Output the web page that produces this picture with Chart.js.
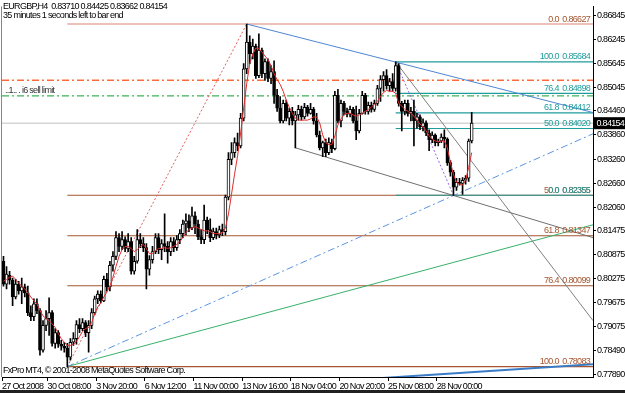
<!DOCTYPE html>
<html><head><meta charset="utf-8">
<script src="https://cdn.jsdelivr.net/npm/chart.js@4.4.1/dist/chart.umd.min.js"></script>
<style>
html,body{margin:0;padding:0;background:#202020;}
#wrap{position:relative;width:625px;height:390px;background:#fff;}
canvas{display:block;}
</style></head><body>
<div id="wrap"><canvas id="c" width="625" height="390"></canvas></div>
<script>
// ---- data (EURGBP H4) ----
const opens = [.8071,.8014,.8036,.8024,.7982,.8014,.7997,.8007,.7992,.7943,
.7933,.7965,.7948,.7849,.7911,.7928,.7943,.7866,.7893,.7864,
.7859,.7854,.7832,.7869,.7878,.7913,.7903,.7918,.7893,.7911,
.7943,.7977,.7989,.7972,.8026,.8007,.8061,.8083,.8130,.8108,
.8125,.8103,.8120,.8046,.8071,.8125,.8115,.8105,.8051,.8075,
.8095,.8130,.8100,.8115,.8108,.8095,.8120,.8105,.8125,.8140,
.8164,.8172,.8154,.8184,.8164,.8132,.8125,.8174,.8150,.8130,
.8145,.8137,.8150,.8145,.8231,.8325,.8342,.8367,.8359,.8428,
.8551,.8618,.8588,.8608,.8534,.8598,.8539,.8569,.8527,.8544,
.8485,.8453,.8421,.8465,.8428,.8445,.8421,.8436,.8450,.8431,
.8455,.8440,.8450,.8421,.8386,.8354,.8367,.8342,.8367,.8352,
.8485,.8421,.8465,.8445,.8438,.8450,.8421,.8396,.8440,.8485,
.8445,.8460,.8450,.8465,.8502,.8524,.8534,.8509,.8519,.8502,
.8559,.8465,.8445,.8465,.8440,.8445,.8421,.8431,.8406,.8416,
.8391,.8374,.8386,.8367,.8371,.8381,.8376,.8317,.8293,.8256,
.8268,.8265,.8273,.8278,.83710];
const highs = [.8083,.8058,.8046,.8029,.8026,.8021,.8029,.8014,.8009,.7960,
.7977,.7977,.7953,.7923,.7948,.7980,.7948,.7903,.7898,.7874,
.7869,.7866,.7878,.7893,.7923,.7928,.7928,.7923,.7923,.7953,
.7984,.7997,.7997,.8034,.8041,.8071,.8095,.8145,.8140,.8145,
.8132,.8140,.8130,.8083,.8150,.8140,.8130,.8115,.8085,.8108,
.8140,.8140,.8125,.8189,.8120,.8130,.8130,.8135,.8150,.8174,
.8189,.8187,.8206,.8194,.8174,.8150,.8211,.8181,.8177,.8154,
.8154,.8159,.8164,.8236,.8342,.8367,.8379,.8391,.8440,.8564,
.86627,.8633,.8625,.8613,.8638,.8603,.8576,.8576,.8559,.8571,
.8500,.8482,.8473,.8473,.8453,.8455,.8445,.8460,.8458,.8465,
.8460,.8465,.8455,.8440,.8396,.8371,.8376,.8379,.8376,.8495,
.8500,.8473,.8470,.8453,.8458,.8455,.8458,.8450,.8495,.8490,
.8468,.8468,.8473,.8510,.8534,.8544,.8549,.8527,.8539,.85684,
.8564,.8470,.8473,.8473,.8455,.8473,.8440,.8436,.8426,.8421,
.8399,.8394,.8389,.8376,.8389,.8399,.8379,.8322,.8298,.8278,
.8278,.8280,.8285,.8376,.84425];
const lows = [.8009,.8002,.8014,.7960,.7977,.7989,.7965,.7982,.7935,.7923,
.7923,.7940,.7837,.7844,.7898,.7886,.7859,.7854,.7856,.7849,
.7844,.78083,.7824,.7861,.7864,.7893,.7898,.7883,.7844,.7903,
.7938,.7965,.7967,.7970,.7997,.7997,.8046,.8075,.8095,.8100,
.8095,.8095,.8039,.8039,.8066,.8105,.8095,.8002,.8036,.8066,
.8090,.8090,.8075,.8095,.8066,.8085,.8095,.8098,.8115,.8130,
.8137,.8145,.8150,.8140,.8125,.8115,.8115,.8140,.8120,.8125,
.8127,.8130,.8135,.8137,.8224,.8312,.8330,.8347,.8354,.8421,
.8539,.8564,.8576,.8527,.8529,.8529,.8522,.8519,.8514,.8465,
.8445,.8416,.8416,.8421,.8411,.8411,.8354,.8423,.8423,.8426,
.8433,.8438,.8413,.8381,.8349,.8332,.8332,.8337,.8342,.8349,
.8416,.8406,.8436,.8431,.8431,.8416,.8374,.8391,.8438,.8438,
.8438,.8443,.8445,.8460,.8470,.8495,.8500,.8495,.8495,.8495,
.8458,.8396,.8436,.8433,.8421,.8359,.8403,.8399,.8396,.8384,
.8347,.8367,.8359,.8359,.8367,.8354,.8310,.8283,.82355,.8248,
.8261,.8238,.8263,.8270,.83662];
const closes = [.8014,.8039,.8024,.7982,.8014,.7997,.8007,.7992,.7943,.7933,
.7965,.7948,.7849,.7911,.7928,.7943,.7866,.7893,.7864,.7859,
.7854,.7832,.7869,.7878,.7913,.7903,.7918,.7893,.7911,.7943,
.7977,.7989,.7972,.8026,.8007,.8061,.8083,.8130,.8108,.8125,
.8103,.8120,.8046,.8071,.8125,.8115,.8105,.8051,.8075,.8095,
.8130,.8100,.8115,.8108,.8095,.8120,.8105,.8125,.8140,.8164,
.8172,.8154,.8184,.8164,.8132,.8125,.8174,.8150,.8130,.8145,
.8137,.8150,.8145,.8231,.8325,.8342,.8367,.8359,.8428,.8551,
.8618,.8588,.8608,.8534,.8598,.8539,.8569,.8527,.8544,.8485,
.8453,.8421,.8465,.8428,.8445,.8421,.8436,.8450,.8431,.8455,
.8440,.8450,.8421,.8386,.8354,.8367,.8342,.8367,.8352,.8485,
.8421,.8465,.8445,.8438,.8450,.8421,.8396,.8440,.8485,.8445,
.8460,.8450,.8465,.8502,.8524,.8534,.8509,.8519,.8502,.8559,
.8465,.8445,.8465,.8440,.8445,.8421,.8431,.8406,.8416,.8391,
.8374,.8386,.8367,.8371,.8381,.8376,.8317,.8293,.8256,.8268,
.8265,.8273,.8278,.8371,.84154];
const maValues = [.8021,.8026,.8031,.8034,.8026,.8016,.8009,.8002,.7992,.7982,
.7972,.7965,.7948,.7935,.7928,.7923,.7915,.7906,.7891,.7878,
.7869,.7861,.7861,.7864,.7871,.7883,.7896,.7903,.7906,.7918,
.7940,.7957,.7967,.7982,.7994,.8009,.8031,.8058,.8083,.8100,
.8108,.8108,.8103,.8095,.8100,.8108,.8113,.8103,.8090,.8090,
.8098,.8103,.8103,.8105,.8103,.8105,.8108,.8113,.8120,.8130,
.8142,.8150,.8154,.8157,.8154,.8150,.8147,.8147,.8145,.8140,
.8140,.8140,.8142,.8154,.8189,.8238,.8288,.8334,.8391,.8453,
.8514,.8564,.8588,.8603,.8601,.8593,.8583,.8574,.8559,.8539,
.8524,.8512,.8495,.8473,.8455,.8440,.8428,.8423,.8423,.8423,
.8423,.8426,.8431,.8431,.8416,.8386,.8367,.8362,.8362,.8384,
.8411,.8426,.8436,.8440,.8440,.8436,.8433,.8436,.8440,.8445,
.8450,.8455,.8463,.8470,.8482,.8492,.8497,.8495,.8495,.8490,
.8465,.8458,.8450,.8445,.8440,.8433,.8423,.8413,.8406,.8396,
.8384,.8376,.8371,.8369,.8371,.8371,.8354,.8317,.8288,.8268,
.8263,.8261,.8273,.8305,.8342];
const xTickBars = [0,15,31,47,63,79,95,111,127,143];
const xTickLabels = ['27 Oct 2008','30 Oct 08:00','3 Nov 20:00','6 Nov 12:00','11 Nov 00:00','13 Nov 16:00','18 Nov 04:00','20 Nov 20:00','25 Nov 08:00','28 Nov 00:00'];
const yTickValues = [0.86845,0.86245,0.85645,0.85045,0.84460,0.83860,0.83260,0.82660,0.82060,0.81475,0.80875,0.80275,0.79675,0.79075,0.78490,0.77890];
const fibBrownLevels = ['0.0','50.0','61.8','76.4','100.0'];
const fibBrownPrices = [0.86627,0.82355,0.81347,0.80099,0.78083];
const fibBrownStartBar = 21;
const fibTealLevels = ['100.0','76.4','61.8','50.0','0.0'];
const fibTealPrices = [0.85684,0.84898,0.84412,0.84020,0.82355];
const fibTealStartBar = 129;
const currentPrice = 0.84154;
const sellLimitPrice = 0.84836;
const orangeLinePrice = 0.85225;
// trend line anchors: [bar, price]
const trendBlueFromTop = [[80,0.86627],[193.9,0.8442]];
const trendGrayChannel = [[96,0.8354],[193.9,0.8130]];
const trendGraySteep = [[129,0.85684],[193.9,0.7923]];
const trendPurple = [[129,0.85684],[148,0.82355]];
const trendBlueDashDot = [[21,0.78083],[193.9,0.8389]];
const trendGreen = [[21,0.78083],[193.9,0.8162]];
const trendRedDots = [[21,0.78083],[80,0.86627]];
const trendBlueBottom = [[115,0.7775],[193.9,0.7814]];
const titleLine = 'EURGBP,H4  0.83710 0.84425 0.83662 0.84154';
const timerLine = '35 minutes 1 seconds left to bar end';
const orderLabel = '..1.. . i6 sell limit';
const copyright = 'FxPro MT4, \u00a9 2001-2008 MetaQuotes Software Corp.';

// ---- chart ----
const XMIN = -0.49, XMAX = 193.9, YMIN = 0.77823, YMAX = 0.87067;
const FAM = '"Liberation Sans", Arial, sans-serif';
const FSIZE = 9;
const SPACING = '-0.7px';
const BROWN = '#a5552f', TEAL = '#1f9c9c';
const idx = closes.map((_, i) => i);
const pts = a => a.map(p => ({x: p[0], y: p[1]}));
function seg(data, color, width, dash, order) {
  return {type: 'line', data, borderColor: color, borderWidth: width, borderDash: dash || [],
    pointRadius: 0, tension: 0, order: order, fill: false};
}
const hLine = (startBar, price) => [{x: startBar, y: price}, {x: XMAX, y: price}];
const datasets = [];
datasets.push(seg(hLine(XMIN, currentPrice), '#c0c0c0', 1, [], 20));
datasets.push(seg(hLine(XMIN, orangeLinePrice), '#ff6a3a', 1.3, [7,3,2,3], 19));
datasets.push(seg(hLine(XMIN, sellLimitPrice), '#3fb354', 1.3, [7,3,2,3], 19));
fibBrownPrices.forEach((p, k) => datasets.push(seg(hLine(fibBrownStartBar, p), k === 0 ? '#d98474' : BROWN, 1.1, [], 18)));
fibTealPrices.forEach(p => datasets.push(seg(hLine(fibTealStartBar, p), TEAL, 1.1, [], 17)));
datasets.push(seg(pts(trendBlueFromTop), '#4f86d2', 1, [], 10));
datasets.push(seg(pts(trendGrayChannel), '#707070', 1, [], 10));
datasets.push(seg(pts(trendGraySteep), '#808080', 1, [], 10));
datasets.push(seg(pts(trendPurple), '#9466e0', 1, [2,2], 10));
datasets.push(seg(pts(trendBlueDashDot), '#5c95e0', 1, [7,3,2,3], 10));
datasets.push(seg(pts(trendGreen), '#37b06a', 1, [], 10));
datasets.push(seg(pts(trendRedDots), '#e06060', 1, [2,2], 10));
datasets.push(seg(pts(trendBlueBottom), '#3a7bc8', 2, [], 10));
datasets.push({type: 'bar', data: idx.map(i => ({x: i, y: [lows[i], highs[i]]})),
  backgroundColor: '#000', barThickness: 1, grouped: false, order: 4, borderWidth: 0});
datasets.push({type: 'bar', data: idx.map(i => ({x: i, y: [opens[i], closes[i]]})),
  backgroundColor: idx.map(i => closes[i] >= opens[i] ? '#ffffff' : '#000000'),
  borderColor: '#000', borderWidth: 1, borderSkipped: false, barThickness: 3, minBarLength: 1,
  grouped: false, order: 3});
datasets.push(seg(maValues.map((v, i) => ({x: i, y: v})), '#e02c2c', 1, [], 1));

const spacingPlugin = {
  id: 'tightText',
  beforeUpdate(chart) { chart.ctx.letterSpacing = SPACING; },
  beforeDraw(chart) { chart.ctx.letterSpacing = SPACING; }
};
const textPlugin = {
  id: 'mt4texts',
  afterDraw(chart) {
    const {ctx, chartArea: a, scales: {y}} = chart;
    ctx.save();
    ctx.letterSpacing = SPACING;
    ctx.font = FSIZE + 'px ' + FAM;
    ctx.strokeStyle = '#888'; ctx.lineWidth = 1;
    ctx.beginPath(); ctx.moveTo(a.left - 0.5, a.top); ctx.lineTo(a.left - 0.5, a.bottom); ctx.stroke();
    ctx.textBaseline = 'middle'; ctx.textAlign = 'left'; ctx.fillStyle = '#000';
    ctx.fillText(titleLine, 3, 6.5);
    ctx.fillText(timerLine, 3, 15.5);
    ctx.fillStyle = '#333';
    ctx.fillText(orderLabel, 5, y.getPixelForValue(sellLimitPrice) - 5);
    ctx.fillStyle = '#000';
    ctx.fillText(copyright, 3, a.bottom - 6);
    ctx.textAlign = 'right'; ctx.textBaseline = 'bottom';
    fibBrownLevels.forEach((l, k) => {
      ctx.fillStyle = BROWN;
      ctx.fillText(l + '  ' + fibBrownPrices[k].toFixed(5), a.right - 3, y.getPixelForValue(fibBrownPrices[k]) - 0.5);
    });
    fibTealLevels.forEach((l, k) => {
      ctx.fillStyle = TEAL;
      ctx.fillText(l + '  ' + fibTealPrices[k].toFixed(5), a.right - 3, y.getPixelForValue(fibTealPrices[k]) - 0.5);
    });
    const py = y.getPixelForValue(currentPrice);
    ctx.fillStyle = '#000';
    ctx.fillRect(a.right + 1, py - 6, 32, 12);
    ctx.fillStyle = '#fff'; ctx.textAlign = 'left'; ctx.textBaseline = 'middle';
    ctx.fillText(currentPrice.toFixed(5), a.right + 3.5, py);
    ctx.restore();
  }
};

new Chart(document.getElementById('c'), {
  type: 'bar',
  data: {datasets},
  options: {
    responsive: false, animation: false, devicePixelRatio: 1,
    layout: {padding: {left: 2, top: 2, right: 0, bottom: 0}},
    plugins: {legend: {display: false}, tooltip: {enabled: false}, title: {display: false}},
    scales: {
      x: {type: 'linear', min: XMIN, max: XMAX, offset: false,
        grid: {display: true, drawOnChartArea: false, drawTicks: true, tickLength: 4, color: '#000', offset: false},
        border: {display: true, color: '#000'},
        afterBuildTicks: s => { s.ticks = xTickBars.map(b => ({value: Math.max(XMIN, b - 0.5)})); },
        afterFit: s => { s.height = 13; },
        ticks: {autoSkip: false, maxRotation: 0, minRotation: 0, align: 'start', padding: 0, color: '#000',
          font: {family: FAM, size: FSIZE}, callback: (v, i) => xTickLabels[i]}
      },
      y: {type: 'linear', position: 'right', min: YMIN, max: YMAX,
        grid: {display: true, drawOnChartArea: false, drawTicks: true, tickLength: 3, color: '#000'},
        border: {display: true, color: '#000'},
        afterBuildTicks: s => { s.ticks = yTickValues.map(v => ({value: v})); },
        afterFit: s => { s.width = 32; },
        ticks: {autoSkip: false, padding: 1, color: '#000', font: {family: FAM, size: FSIZE},
          callback: v => Number(v).toFixed(5)}
      }
    }
  },
  plugins: [spacingPlugin, textPlugin]
});
</script>
</body></html>
